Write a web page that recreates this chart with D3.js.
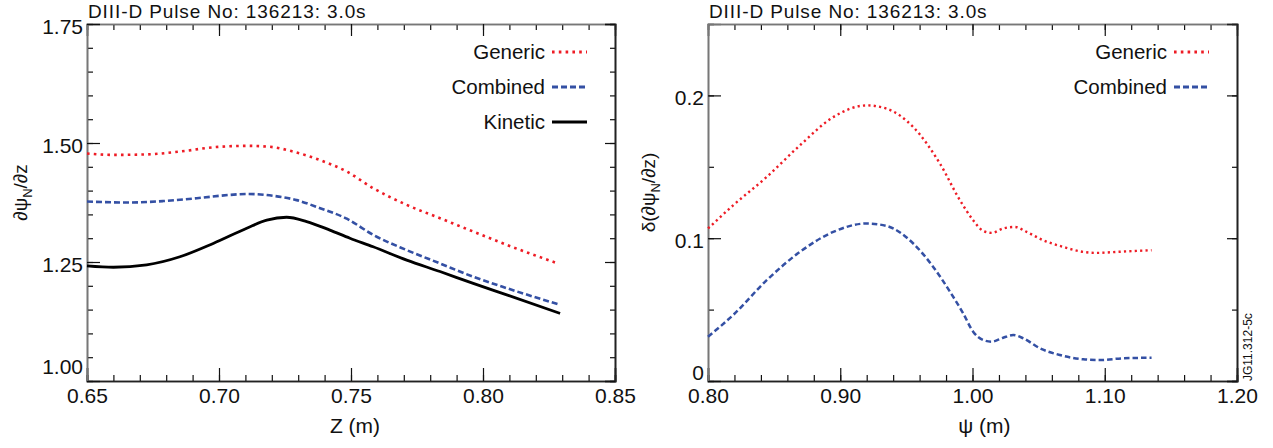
<!DOCTYPE html>
<html>
<head>
<meta charset="utf-8">
<script src="https://cdn.jsdelivr.net/npm/d3@7"></script>
<style>
  body { margin: 0; background: #fff; }
  svg { font-family: "Liberation Sans", Arial, Helvetica, sans-serif; }
</style>
</head>
<body>
<div id="chart"></div>
<script>
// values
const titleText = 'DIII-D Pulse No: 136213: 3.0s';

// left panel: dpsiN/dz against Z (m)
const leftGeneric = [
  [0.650, 1.478], [0.660, 1.475], [0.6726, 1.476], [0.6852, 1.482], [0.6978, 1.491],
  [0.7105, 1.494], [0.7193, 1.492], [0.7281, 1.482], [0.7383, 1.464], [0.7484, 1.440],
  [0.7584, 1.405], [0.7711, 1.370], [0.7837, 1.342], [0.7963, 1.314], [0.809, 1.286],
  [0.8273, 1.249]
];
const leftCombined = [
  [0.650, 1.377], [0.6663, 1.375], [0.6789, 1.378], [0.6916, 1.384], [0.7042, 1.391],
  [0.7105, 1.393], [0.7206, 1.389], [0.7294, 1.380], [0.7383, 1.363], [0.7484, 1.341],
  [0.7584, 1.307], [0.7711, 1.275], [0.7837, 1.247], [0.7963, 1.219], [0.809, 1.195],
  [0.8292, 1.160]
];
const leftKinetic = [
  [0.650, 1.242], [0.660, 1.239], [0.6726, 1.244], [0.6852, 1.261], [0.6978, 1.289],
  [0.7105, 1.321], [0.7181, 1.338], [0.7256, 1.344], [0.7332, 1.335], [0.742, 1.317],
  [0.7496, 1.300], [0.7584, 1.282], [0.7711, 1.254], [0.7837, 1.230], [0.7963, 1.205],
  [0.809, 1.181], [0.8292, 1.142]
];
const leftXTicks = [0.65, 0.70, 0.75, 0.80, 0.85];
const leftYTicks = [1.00, 1.25, 1.50, 1.75];

// right panel: delta(dpsiN/dz) against psi (m)
const rightGeneric = [
  [0.800, 0.1068], [0.819, 0.1230], [0.8444, 0.1429], [0.8695, 0.1650], [0.8947, 0.1848],
  [0.920, 0.1930], [0.935, 0.1907], [0.9552, 0.1778], [0.9754, 0.1522], [0.9905, 0.1266],
  [1.0005, 0.1126], [1.008, 0.1051], [1.0144, 0.1037], [1.0232, 0.1068], [1.032, 0.1079],
  [1.0409, 0.1044], [1.0534, 0.0986], [1.0686, 0.0939], [1.0837, 0.0904], [1.0938, 0.0897],
  [1.1089, 0.0904], [1.124, 0.0911], [1.1354, 0.0916]
];
const rightCombined = [
  [0.800, 0.0310], [0.819, 0.0462], [0.8444, 0.0706], [0.8695, 0.0904], [0.8947, 0.1044],
  [0.920, 0.1103], [0.935, 0.1086], [0.9552, 0.0963], [0.9703, 0.0799], [0.983, 0.0625],
  [0.993, 0.0473], [1.0005, 0.0345], [1.008, 0.0287], [1.0144, 0.0275], [1.0232, 0.0303],
  [1.0308, 0.0322], [1.0384, 0.0299], [1.051, 0.0229], [1.0661, 0.0182], [1.0837, 0.0152],
  [1.0963, 0.0147], [1.1139, 0.0159], [1.1354, 0.0163]
];
const rightXTicks = [0.80, 0.90, 1.00, 1.10, 1.20];
const rightYTicks = [0, 0.1, 0.2];

const styles = {
  Generic: { color: '#ee1c25', width: 2.6, dash: '2.6,4.2' },
  Combined: { color: '#3450a4', width: 2.6, dash: '6,3' },
  Kinetic: { color: '#000', width: 2.8, dash: null }
};

const width = 1273, height = 448;
const svg = d3.select('#chart').append('svg')
  .attr('width', width)
  .attr('height', height);

function drawPanel(opt) {
  const { left, right, top, bottom } = opt.box;
  const x = d3.scaleLinear().domain(opt.xDomain).range([left, right]);
  const y = d3.scaleLinear().domain(opt.yDomain).range([bottom, top]);
  const g = svg.append('g');

  const xMinor = d3.range(opt.xDomain[0], opt.xDomain[1] + 1e-9, opt.xMinor);
  const yMinor = d3.range(opt.yDomain[0], opt.yDomain[1] + 1e-9, opt.yMinor);

  // minor ticks on all four sides
  g.append('g').attr('transform', `translate(0,${bottom})`)
    .call(d3.axisBottom(x).tickValues(xMinor).tickSize(-6).tickFormat(''));
  g.append('g').attr('class', 'grey').attr('transform', `translate(0,${top})`)
    .call(d3.axisTop(x).tickValues(xMinor).tickSize(-6).tickFormat(''));
  g.append('g').attr('class', 'grey').attr('transform', `translate(${left},0)`)
    .call(d3.axisLeft(y).tickValues(yMinor).tickSize(-6).tickFormat(''));
  g.append('g').attr('transform', `translate(${right},0)`)
    .call(d3.axisRight(y).tickValues(yMinor).tickSize(-5).tickFormat(''));

  // major ticks with labels
  g.append('g').attr('transform', `translate(0,${bottom})`)
    .call(d3.axisBottom(x).tickValues(opt.xTicks).tickSize(-13).tickPadding(7)
      .tickFormat(d3.format('.2f')));
  g.append('g').attr('class', 'grey').attr('transform', `translate(0,${top})`)
    .call(d3.axisTop(x).tickValues(opt.xTicks).tickSize(-12).tickFormat(''));
  const yAx = g.append('g').attr('class', 'grey').attr('transform', `translate(${left},0)`)
    .call(d3.axisLeft(y).tickValues(opt.yTicks).tickSize(-13).tickPadding(4)
      .tickFormat(opt.yFormat));
  g.append('g').attr('transform', `translate(${right},0)`)
    .call(d3.axisRight(y).tickValues(opt.yTicks).tickSize(-10).tickFormat(''));

  g.selectAll('.tick line').attr('stroke', '#111').attr('stroke-width', 1.2);
  g.selectAll('.domain').attr('stroke', '#222').attr('stroke-width', 1.6);
  // left and top frame lines are greyer in the reference
  g.selectAll('.grey .domain').attr('stroke', '#777');
  g.selectAll('.tick text').attr('font-size', 21).attr('fill', '#111')
    .attr('font-family', '"Liberation Sans", Arial, sans-serif');
  yAx.selectAll('.tick text').attr('dy', '0.44em');
  // lowest y label sits a little above the axis corner
  yAx.selectAll('.tick text').filter(d => d === opt.yDomain[0]).attr('dy', opt.lowDy);

  const line = d3.line().x(d => x(d[0])).y(d => y(d[1])).curve(d3.curveMonotoneX);
  opt.series.forEach(s => {
    const st = styles[s.name];
    g.append('path').datum(s.data)
      .attr('fill', 'none')
      .attr('stroke', st.color)
      .attr('stroke-width', s.width || st.width)
      .attr('stroke-dasharray', s.dash || st.dash)
      .attr('d', line);
  });

  // legend
  const leg = g.append('g');
  opt.series.forEach((s, i) => {
    const st = styles[s.name];
    const ly = top + 28 + i * 35;
    leg.append('text')
      .attr('x', right - 70).attr('y', ly).attr('dy', '0.36em')
      .attr('text-anchor', 'end').attr('font-size', 20.5).attr('fill', '#111')
      .text(s.name);
    leg.append('line')
      .attr('x1', right - 63).attr('x2', right - 28)
      .attr('y1', ly).attr('y2', ly)
      .attr('stroke', st.color)
      .attr('stroke-width', s.name === 'Kinetic' ? 3.2 : 3)
      .attr('stroke-dasharray', st.dash);
  });

  // title
  g.append('text')
    .attr('x', left + 1).attr('y', 18)
    .attr('font-size', 19).attr('letter-spacing', 0.9).attr('fill', '#111')
    .text(titleText);

  // x-axis title
  g.append('text')
    .attr('x', x(opt.xTitleAt)).attr('y', 433)
    .attr('text-anchor', 'middle').attr('font-size', 21).attr('fill', '#111')
    .text(opt.xTitle);

  // y-axis title (rotated)
  const yt = g.append('text')
    .attr('transform', `translate(${opt.yTitleX},${(top + bottom) / 2 - 10}) rotate(-90)`)
    .attr('text-anchor', 'middle').attr('font-size', 19).attr('fill', '#111');
  yt.append('tspan').text(opt.yTitlePre);
  yt.append('tspan').attr('font-size', 13).attr('dy', 5).text('N');
  yt.append('tspan').attr('dy', -5).text(opt.yTitlePost);

  return { x, y };
}

drawPanel({
  box: { left: 87, right: 615, top: 24, bottom: 381 },
  xDomain: [0.65, 0.85], yDomain: [1.00, 1.75],
  xMinor: 0.01, yMinor: 0.05,
  xTicks: leftXTicks, yTicks: leftYTicks,
  yFormat: d3.format('.2f'), lowDy: '-0.36em',
  xTitle: 'Z (m)', xTitleAt: 0.7515,
  yTitleX: 27, yTitlePre: '\u2202\u03c8', yTitlePost: '/\u2202z',
  series: [
    { name: 'Generic', data: leftGeneric },
    { name: 'Combined', data: leftCombined },
    { name: 'Kinetic', data: leftKinetic }
  ]
});

drawPanel({
  box: { left: 708, right: 1237, top: 24, bottom: 381 },
  xDomain: [0.80, 1.20], yDomain: [0, 0.25],
  xMinor: 0.02, yMinor: 0.05,
  xTicks: rightXTicks, yTicks: rightYTicks,
  yFormat: d => d === 0 ? '0' : d3.format('.1f')(d), lowDy: '-0.05em',
  xTitle: '\u03c8 (m)', xTitleAt: 1.009,
  yTitleX: 655, yTitlePre: '\u03b4(\u2202\u03c8', yTitlePost: '/\u2202z)',
  series: [
    { name: 'Generic', data: rightGeneric, width: 2.4, dash: '2.2,3.2' },
    { name: 'Combined', data: rightCombined, width: 2.5, dash: '5.5,3' }
  ]
});

// figure reference code on the right edge
svg.append('text')
  .attr('transform', 'translate(1252,381) rotate(-90)')
  .attr('font-size', 12).attr('fill', '#111')
  .text('JG11.312-5c');
</script>
</body>
</html>
